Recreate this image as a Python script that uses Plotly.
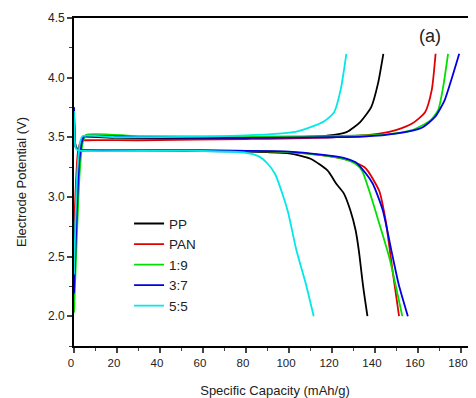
import plotly.graph_objects as go

names = ["PP", "PAN", "1:9", "3:7", "5:5"]
colors = ["#000000", "#e00000", "#00e000", "#0000e0", "#00e8e8"]

# charge curves (capacity mAh/g, potential V)
pp_charge_cap = [0.3, 2, 4, 5, 20, 60, 100, 115, 121, 127, 133, 138.3, 141.4, 143.9]
pp_charge_v = [2.6, 3.35, 3.5, 3.505, 3.495, 3.49, 3.5, 3.51, 3.52, 3.545, 3.625, 3.755, 3.95, 4.2]
pan_charge_cap = [0.2, 2, 3.5, 5, 30, 80, 120, 142, 149.7, 157.3, 163.3, 166.4, 168.2]
pan_charge_v = [2.8, 3.4, 3.47, 3.475, 3.475, 3.485, 3.5, 3.53, 3.56, 3.615, 3.71, 3.895, 4.2]
r19_charge_cap = [0, 2.7, 4, 5.5, 30, 80, 120, 145, 157.3, 165.6, 169.4, 171.7, 174]
r19_charge_v = [2.03, 3.22, 3.45, 3.52, 3.51, 3.505, 3.51, 3.525, 3.56, 3.64, 3.727, 3.92, 4.2]
r37_charge_cap = [0, 2.5, 4, 5, 30, 80, 120, 134.5, 149.7, 161.8, 167.9, 172.4, 175.5, 179.2]
r37_charge_v = [2.19, 3.3, 3.48, 3.51, 3.5, 3.495, 3.5, 3.505, 3.53, 3.58, 3.67, 3.81, 3.98, 4.2]
r55_charge_cap = [0, 1.5, 3, 4, 20, 60, 80, 95, 103, 110, 116.4, 121, 124, 126.7]
r55_charge_v = [2.35, 3.2, 3.47, 3.51, 3.5, 3.505, 3.515, 3.53, 3.545, 3.585, 3.635, 3.71, 3.895, 4.2]

# discharge curves
pp_dis_cap = [0, 0.8, 2, 5, 60, 90, 100, 110, 118, 122, 125.5, 128.5, 131, 132.5, 134.5, 136.5]
pp_dis_v = [3.75, 3.42, 3.395, 3.39, 3.385, 3.375, 3.365, 3.32, 3.22, 3.11, 3.03, 2.89, 2.72, 2.55, 2.25, 2.0]
pan_dis_cap = [0, 0.8, 2, 5, 60, 100, 115, 125, 131, 135, 137, 142, 145, 148.2, 151.2]
pan_dis_v = [3.75, 3.42, 3.395, 3.39, 3.39, 3.375, 3.35, 3.32, 3.285, 3.25, 3.21, 3.05, 2.8, 2.38, 2.0]
r19_dis_cap = [0, 0.8, 2, 5, 60, 100, 115, 125, 131, 134, 137, 140.6, 146.7, 152.7]
r19_dis_v = [3.75, 3.42, 3.395, 3.39, 3.39, 3.375, 3.35, 3.32, 3.275, 3.22, 3.07, 2.86, 2.49, 2.0]
r37_dis_cap = [0, 0.8, 2, 5, 60, 100, 115, 125, 131, 135.6, 139, 143.6, 148, 151, 155.3]
r37_dis_v = [3.75, 3.42, 3.395, 3.39, 3.39, 3.38, 3.355, 3.33, 3.29, 3.2, 3.11, 2.89, 2.52, 2.27, 2.0]
r55_dis_cap = [0, 0.8, 2, 5, 60, 80, 86, 90, 93.6, 96.5, 99.6, 103.5, 108, 111.5]
r55_dis_v = [3.72, 3.41, 3.39, 3.385, 3.385, 3.37, 3.34, 3.28, 3.19, 3.05, 2.87, 2.55, 2.26, 2.0]

charge = [(pp_charge_cap, pp_charge_v), (pan_charge_cap, pan_charge_v), (r19_charge_cap, r19_charge_v),
          (r37_charge_cap, r37_charge_v), (r55_charge_cap, r55_charge_v)]
discharge = [(pp_dis_cap, pp_dis_v), (pan_dis_cap, pan_dis_v), (r19_dis_cap, r19_dis_v),
             (r37_dis_cap, r37_dis_v), (r55_dis_cap, r55_dis_v)]

x_ticks = [0, 20, 40, 60, 80, 100, 120, 140, 160, 180]
y_ticks = [2.0, 2.5, 3.0, 3.5, 4.0, 4.5]

fig = go.Figure()
for i, name in enumerate(names):
    cx, cy = charge[i]
    dx, dy = discharge[i]
    fig.add_trace(go.Scatter(x=cx, y=cy, mode="lines", name=name, legendgroup=name,
                             line=dict(color=colors[i], width=1.8, shape="spline", smoothing=0.6)))
    fig.add_trace(go.Scatter(x=dx, y=dy, mode="lines", name=name, legendgroup=name, showlegend=False,
                             line=dict(color=colors[i], width=1.8, shape="spline", smoothing=0.6)))

font_fam = "Arial, Liberation Sans, sans-serif"
fig.update_layout(
    width=468, height=390,
    margin=dict(l=66, r=0, t=10, b=52),
    paper_bgcolor="white", plot_bgcolor="white",
    font=dict(family=font_fam, size=12, color="#222"),
    showlegend=True,
    legend=dict(x=0.137, y=0.42, xanchor="left", yanchor="top", bgcolor="rgba(0,0,0,0)",
                font=dict(size=13.5, color="#222"), tracegroupgap=0, itemwidth=30),
    xaxis=dict(range=[0, 187], tickvals=x_ticks, ticks="outside", ticklen=5, tickwidth=1.5,
               showline=True, linecolor="black", linewidth=1.8, mirror=True, showgrid=False, zeroline=False,
               automargin=False, ticklabeloverflow="allow", ticklabelshift=-3,
               minor=dict(ticks="outside", ticklen=3, tickwidth=1.2, dtick=10, showgrid=False),
               title=dict(text="Specific Capacity (mAh/g)", font=dict(size=13), standoff=18),
               tickfont=dict(size=11.5)),
    yaxis=dict(range=[1.75, 4.5], tickvals=y_ticks, tickformat=".1f", ticks="outside", ticklen=5, tickwidth=1.5,
               showline=True, linecolor="black", linewidth=1.8, showgrid=False, zeroline=False,
               automargin=False,
               minor=dict(ticks="outside", ticklen=3, tickwidth=1.2, dtick=0.25, showgrid=False),
               title=dict(text="Electrode Potential (V)", font=dict(size=13), standoff=18),
               tickfont=dict(size=12)),
    annotations=[dict(text="(a)", xref="paper", yref="paper", x=0.885, y=0.945, xanchor="center",
                      yanchor="middle", showarrow=False, font=dict(size=18, color="#222"))],
)

fig.write_html("out.html")
